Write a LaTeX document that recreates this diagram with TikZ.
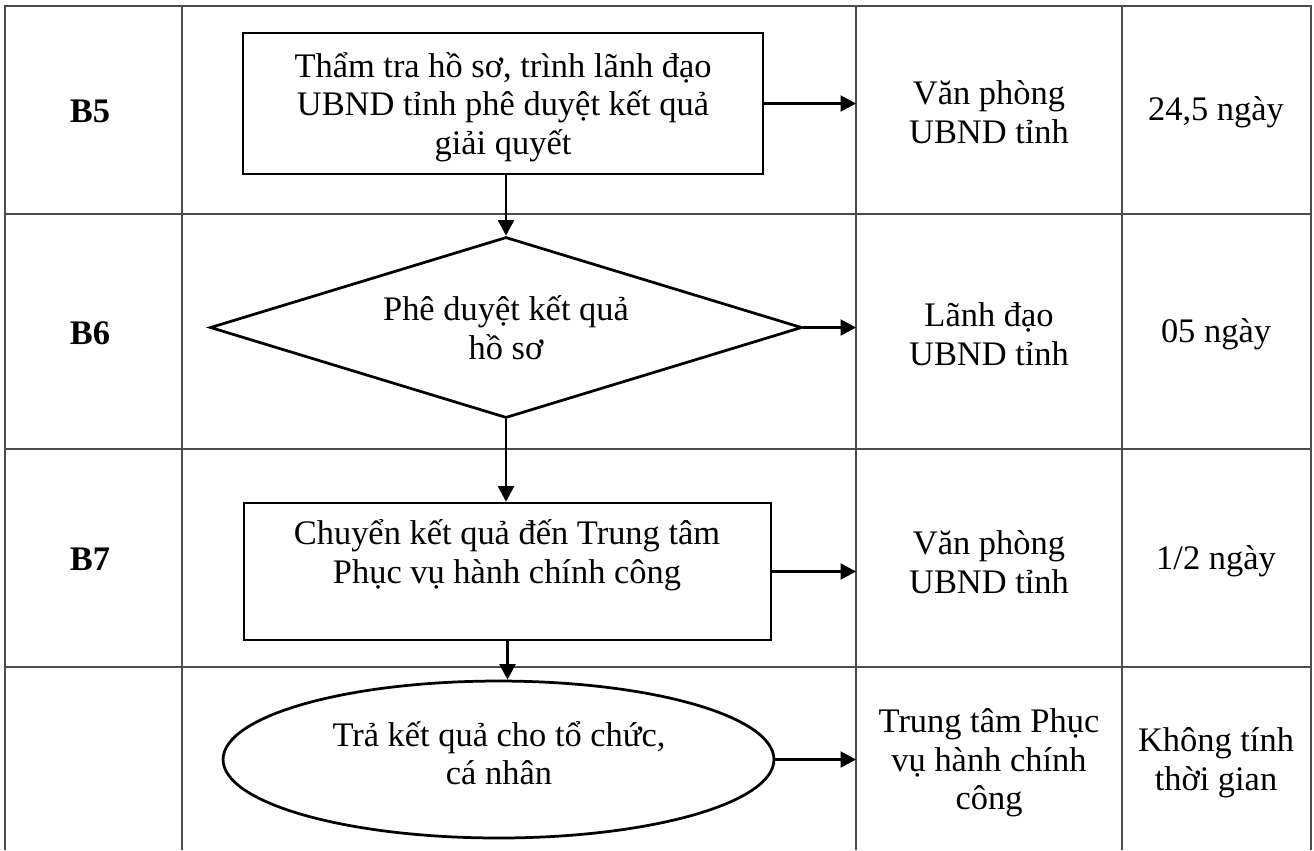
\documentclass[tikz,border=0pt]{standalone}
\usepackage{fontspec}
\setmainfont{Liberation Serif}
\usetikzlibrary{shapes.geometric, arrows.meta}

\begin{document}
\begin{tikzpicture}[
  x=0.02cm, y=-0.02cm,
    every node/.style={font=\fontsize{19.6}{22}\selectfont, align=center, inner sep=0pt},
    grid/.style={draw=black!70, line width=0.035cm},
    process/.style={rectangle, draw=black, line width=0.055cm},
    decision/.style={diamond, aspect=3.27, draw=black, line width=0.055cm},
    terminal/.style={ellipse, draw=black, line width=0.055cm},
    stepname/.style={font=\fontsize{19.6}{22}\selectfont\bfseries},
    arrow/.style={line width=0.045cm, -{Triangle[length=0.31cm, width=0.32cm]}}
]
\useasboundingbox (0,0) rectangle (1314,850);

% Table grid
\draw [grid] (5,850) -- (5,6) -- (1311,6) -- (1311,850);
\foreach \x in {182,856,1122} \draw [grid] (\x,6) -- (\x,850);
\foreach \y in {214,449,667} \draw [grid] (5,\y) -- (1311,\y);
\coordinate (lane) at (856,0);

% Step names
\node (b5) [stepname] at (90,111) {B5};
\node (b6) [stepname] at (90,333) {B6};
\node (b7) [stepname] at (90,559) {B7};

% Flow chart
\node (verify) [process, minimum width=10.4cm, minimum height=2.82cm] at (503,103.5) {};
\node (verifytext) at (503,107) {Thẩm tra hồ sơ, trình lãnh đạo\\UBND tỉnh phê duyệt kết quả\\giải quyết};
\node (approve) [decision, minimum width=11.84cm, minimum height=3.62cm] at (506,327.5) {Phê duyệt kết quả\\hồ sơ};
\node (forward) [process, minimum width=10.54cm, minimum height=2.74cm] at (507.5,571.5) {};
\node (forwardtext) at (507,555) {Chuyển kết quả đến Trung tâm\\Phục vụ hành chính công};
\node (handover) [terminal, minimum width=11.02cm, minimum height=3.14cm] at (498.5,759.5) {};
\node (handovertext) at (499,753) {Trả kết quả cho tổ chức,\\cá nhân};

% Responsible units and time
\node (office5) at (989,112) {Văn phòng\\UBND tỉnh};
\node (time5) at (1216,112) {24,5 ngày};
\node (leader6) at (989,334) {Lãnh đạo\\UBND tỉnh};
\node (time6) at (1216,334) {05 ngày};
\node (office7) at (989,562) {Văn phòng\\UBND tỉnh};
\node (time7) at (1216,561) {1/2 ngày};
\node (center8) at (989,763) {Trung tâm Phục\\vụ hành chính\\công};
\node (time8) at (1216,763) {Không tính\\thời gian};

% Arrows
\draw [arrow] (verify.east) -- (verify.east -| lane);
\draw [arrow] (approve.north |- verify.south) -- (approve.north);
\draw [arrow] (approve.east) -- (approve.east -| lane);
\draw [arrow] (approve.south) -- (approve.south |- forward.north);
\draw [arrow] (forward.east) -- (forward.east -| lane);
\draw [arrow] (forward.south) -- (forward.south |- handover.north);
\draw [arrow] (handover.east) -- (handover.east -| lane);

\end{tikzpicture}
\end{document}
